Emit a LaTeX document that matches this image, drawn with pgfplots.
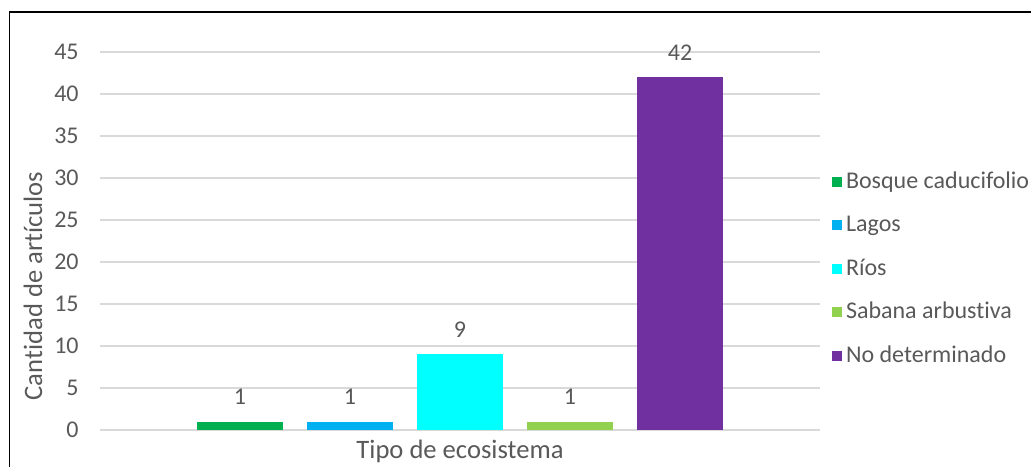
\documentclass[border=0pt]{standalone}
\usepackage{fontspec}
\setmainfont{Carlito}[Ligatures=NoCommon]
\usepackage{pgfplots}
\pgfplotsset{compat=1.18}
\definecolor{txt}{HTML}{595959}
\definecolor{gridc}{HTML}{D9D9D9}
\definecolor{cBosque}{HTML}{00B050}
\definecolor{cLagos}{HTML}{00B0F0}
\definecolor{cRios}{HTML}{00FFFF}
\definecolor{cSabana}{HTML}{92D050}
\definecolor{cNoDet}{HTML}{7030A0}
\begin{document}
\begin{tikzpicture}[x=1pt,y=1pt]
\useasboundingbox (0,0) rectangle (515.5,233);
\draw[line width=0.8pt] (4.75,-5) -- (4.75,227) -- (520,227);
\begin{axis}[
  at={(50pt,18pt)}, anchor=south west,
  scale only axis, width=360pt, height=189pt,
  xmin=-0.2727, xmax=6.2727, ymin=0, ymax=45,
  ytick={0,5,...,45}, xtick=\empty,
  axis line style={draw=none},
  major tick length=0pt,
  ymajorgrids, grid style={color=gridc, line width=0.7pt},
  /pgf/number format/assume math mode=true,
  yticklabel style={font=\fontsize{12}{14}\selectfont, text=txt, inner sep=0pt, xshift=-10.5pt},
  every axis y label/.style={at={(rel axis cs:-0.0931,0.381)}, rotate=90, anchor=center, font=\fontsize{13.3}{15}\selectfont, text=txt},
  every axis x label/.style={at={(rel axis cs:0.5,-0.0556)}, anchor=center, font=\fontsize{13.3}{15}\selectfont, text=txt},
  ylabel={Cantidad de artículos},
  xlabel={Tipo de ecosistema},
  nodes near coords,
  nodes near coords style={font=\fontsize{12}{14}\selectfont, text=txt, anchor=base, inner sep=0pt, yshift=8.5pt},
  legend style={at={(rel axis cs:1.0167,0.690)}, anchor=north west, draw=none, fill=none,
    inner sep=0pt, outer sep=0pt, row sep=8.75pt,
    font=\fontsize{12}{14}\selectfont, text=txt,
    nodes={inner sep=0.5pt, text height=9pt, text depth=3pt},
    /tikz/every odd column/.style={column sep=1.5pt}},
  legend cell align=left,
  legend image code/.code={\fill[#1] (0pt,-2.3pt) rectangle (5pt,2.7pt);},
]
\addplot[ybar, bar shift=0pt, bar width=0.782, fill=cBosque, draw=none] coordinates {(1,1)};
\addlegendentry{Bosque caducifolio}
\addplot[ybar, bar shift=0pt, bar width=0.782, fill=cLagos, draw=none] coordinates {(2,1)};
\addlegendentry{Lagos}
\addplot[ybar, bar shift=0pt, bar width=0.782, fill=cRios, draw=none] coordinates {(3,9)};
\addlegendentry{Ríos}
\addplot[ybar, bar shift=0pt, bar width=0.782, fill=cSabana, draw=none] coordinates {(4,1)};
\addlegendentry{Sabana arbustiva}
\addplot[ybar, bar shift=0pt, bar width=0.782, fill=cNoDet, draw=none] coordinates {(5,42)};
\addlegendentry{No determinado}
\end{axis}
\end{tikzpicture}
\end{document}
